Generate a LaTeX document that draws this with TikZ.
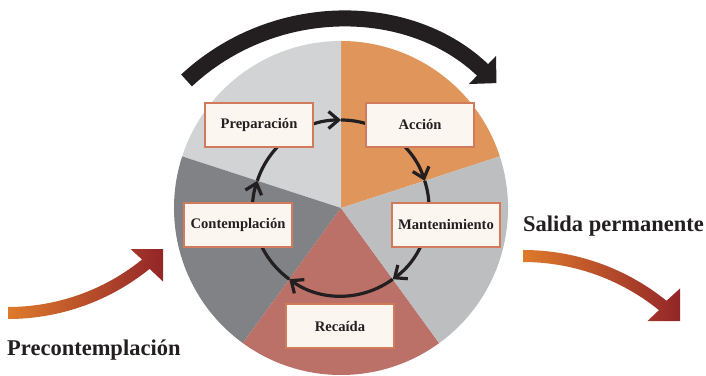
\documentclass[tikz,border=0pt]{standalone}
\usepackage{fontspec}
\setmainfont{Liberation Serif}
\usetikzlibrary{arrows.meta, calc}
\definecolor{prepgray}{HTML}{D1D3D4}
\definecolor{accorange}{HTML}{E0955A}
\definecolor{mantgray}{HTML}{BCBEC0}
\definecolor{recrose}{HTML}{BB7168}
\definecolor{contgray}{HTML}{808285}
\definecolor{boxfill}{HTML}{FBF6F0}
\definecolor{boxline}{HTML}{D27A5C}
\definecolor{inkblack}{HTML}{231F20}
\definecolor{exitorange}{HTML}{DE7A2C}
\definecolor{exitred}{HTML}{932528}
\tikzset{
    stagebox/.style={rectangle, draw=boxline, line width=1.2pt, fill=boxfill,
                     minimum width=108pt, minimum height=44pt, inner sep=2pt,
                     font=\fontsize{14.6}{17}\selectfont\bfseries, text=inkblack},
    sidelabel/.style={font=\fontsize{22.5}{26}\selectfont\bfseries, text=inkblack, inner sep=0pt},
    cyclearrow/.style={-{Straight Barb[length=10pt, width=17pt]}, line width=3.2pt, inkblack},
    bigarrow/.style={-{Triangle[angle=90:27pt]}, line width=16pt, inkblack},
}

\begin{document}
\begin{tikzpicture}[x=1pt, y=1pt]
    \useasboundingbox (0,0) rectangle (706,375);
    \coordinate (wheel) at (341,167);

    % Wheel sectors
    \foreach \a/\col in {18/accorange, 90/prepgray, 162/contgray, 234/recrose, 306/mantgray}
        \fill[\col] (wheel) -- ++(\a:167) arc[start angle=\a, delta angle=72, radius=167pt] -- cycle;

    % Cycle arrows
    \foreach \a [count=\i] in {162, 90, 18, -54, -126}
        \coordinate (turn\i) at ($(wheel)+(\a:88)$);
    \foreach \a [count=\i] in {162, 90, 18, -54, -126}
        \draw[cyclearrow] (turn\i) arc[start angle=\a, delta angle=-72, radius=88pt];

    % Stages
    \node[stagebox] (prep) at (259,250) {Preparación};
    \node[stagebox] (acc) at (420,250) {Acción};
    \node[stagebox] (cont) at (238,150) {Contemplación};
    \node[stagebox] (mant) at (446,150) {Mantenimiento};
    \node[stagebox] (rec) at (340,49) {Recaída};

    % Big arrow over the top
    \coordinate (overhub) at (340,130);
    \coordinate (overstart) at ($(overhub)+(133:225)$);
    \draw[bigarrow] (overstart) arc[start angle=133, end angle=46, radius=225pt];

    % Entry arrow
    \coordinate (inhub) at (8,281);
    \coordinate (intip) at (163,126);
    \shade[left color=exitorange, right color=exitred]
        ($(inhub)+(-90:213)$) arc[start angle=-90, end angle=-51, radius=213pt]
        -- ($(intip)+(-32.5,0)$) -- (intip) -- ($(intip)+(0,-32.5)$)
        -- ($(inhub)+(-51:225)$) arc[start angle=-51, end angle=-90, radius=225pt] -- cycle;

    % Exit arrow
    \coordinate (outhub) at (523,-103);
    \coordinate (outtip) at (680,54);
    \shade[left color=exitorange, right color=exitred]
        ($(outhub)+(90:228)$) arc[start angle=90, end angle=51, radius=228pt]
        -- ($(outtip)+(0,32.5)$) -- (outtip) -- ($(outtip)+(-32.5,0)$)
        -- ($(outhub)+(51:216)$) arc[start angle=51, end angle=90, radius=216pt] -- cycle;

    % Outside labels
    \node[sidelabel, anchor=base west] (pre) at (7,20) {Precontemplación};
    \node[sidelabel, anchor=base west] (exit) at (523,143) {Salida permanente};
\end{tikzpicture}
\end{document}
